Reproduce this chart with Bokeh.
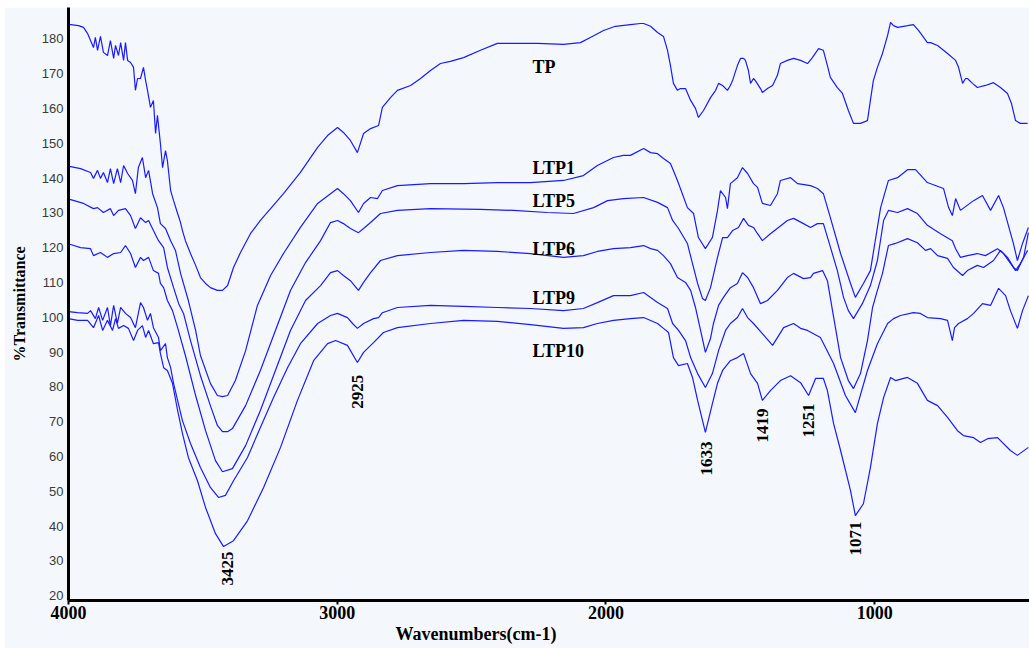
import math
from bokeh.plotting import figure
from bokeh.models import Range1d, FixedTicker, Title, Spacer
from bokeh.layouts import column, row
from bokeh.core.properties import value
from bokeh.embed import file_html
from bokeh.resources import INLINE

# ---- data: (wavenumber cm-1, %T) ----
tp = [(4000,184.1),(3992,184.1),(3963,183.8),(3944,183.3),(3929,181.5),(3918,179.5),(3907,177.5),(3900,180.4),(3892,176.7),(3881,180.7),(3870,176.1),(3855,175.2),(3844,179.5),(3832,174.4),(3825,178.1),(3814,175.2),(3806,178.9),(3795,173.8),(3788,178.9),(3780,173.8),(3769,173.2),(3758,171.8),(3751,165.2),(3743,168.6),(3732,168.6),(3721,171.8),(3713,168.0),(3706,165.2),(3695,160.3),(3684,162.3),(3676,152.8),(3669,158.0),(3658,149.9),(3650,143.0),(3639,147.9),(3632,145.0),(3620,136.4),(3609,133.5),(3594,129.8),(3583,127.2),(3576,124.9),(3565,122.0),(3546,118.3),(3527,114.9),(3509,111.4),(3490,109.7),(3472,108.5),(3446,107.7),(3427,107.7),(3408,109.1),(3386,114.3),(3360,118.6),(3323,124.0),(3286,127.8),(3248,131.2),(3200,135.5),(3137,141.6),(3073,148.8),(3036,152.2),(2999,154.5),(2977,153.1),(2951,150.8),(2925,147.3),(2902,152.8),(2876,154.2),(2846,155.1),(2832,160.3),(2802,163.1),(2776,165.2),(2727,166.6),(2690,168.6),(2653,170.9),(2616,172.9),(2579,173.5),(2530,174.6),(2467,176.7),(2404,178.7),(2255,178.7),(2158,178.4),(2095,178.9),(2058,180.4),(2009,182.4),(1965,183.6),(1909,184.1),(1872,184.4),(1860,184.4),(1834,183.6),(1808,181.8),(1786,180.7),(1771,176.7),(1760,172.3),(1749,167.2),(1734,165.2),(1723,165.7),(1704,165.7),(1685,162.3),(1667,160.0),(1656,157.4),(1637,159.4),(1611,163.1),(1592,165.2),(1581,167.2),(1566,166.6),(1548,165.2),(1537,166.6),(1529,168.0),(1511,172.3),(1499,174.4),(1488,174.4),(1481,173.8),(1470,170.9),(1462,167.2),(1451,168.6),(1444,168.0),(1425,165.7),(1418,164.6),(1399,165.7),(1380,166.6),(1362,169.5),(1351,172.9),(1325,173.8),(1302,174.4),(1276,173.8),(1250,172.9),(1232,174.6),(1209,177.2),(1191,176.7),(1176,172.3),(1165,168.9),(1139,166.0),(1120,164.3),(1098,159.4),(1079,155.7),(1053,155.7),(1027,156.5),(1016,162.3),(1005,168.0),(990,171.8),(971,175.8),(952,181.0),(941,184.7),(930,183.8),(915,183.3),(893,183.6),(878,183.8),(856,184.1),(837,182.4),(818,180.4),(804,178.9),(792,178.9),(766,178.1),(729,175.8),(699,173.8),(688,171.8),(673,167.2),(662,168.6),(655,168.6),(636,167.2),(618,166.0),(588,166.6),(558,167.4),(532,166.0),(506,164.3),(491,161.4),(476,156.5),(458,155.7),(431,155.7)]

ltp1 = [(4000,143.0),(3992,143.3),(3955,142.7),(3918,141.6),(3907,139.9),(3892,142.2),(3881,139.9),(3870,141.6),(3855,138.7),(3844,142.7),(3832,138.4),(3818,142.7),(3806,138.7),(3795,143.6),(3780,141.3),(3762,139.3),(3751,135.5),(3740,143.0),(3725,145.9),(3713,140.1),(3702,142.2),(3687,135.5),(3669,131.5),(3658,126.9),(3639,125.5),(3620,122.0),(3602,119.2),(3583,112.6),(3554,104.8),(3527,96.2),(3509,89.0),(3472,81.0),(3446,77.5),(3427,77.2),(3408,77.5),(3379,81.8),(3341,90.4),(3297,103.4),(3248,112.0),(3200,118.3),(3137,125.8),(3073,132.7),(2999,137.0),(2977,135.5),(2951,133.5),(2921,130.1),(2902,132.7),(2876,134.4),(2850,134.1),(2832,136.4),(2776,137.8),(2653,138.4),(2530,138.4),(2404,138.7),(2281,138.7),(2158,139.3),(2084,140.7),(2032,143.6),(1972,145.9),(1935,146.5),(1909,146.5),(1860,148.5),(1834,147.3),(1808,147.0),(1786,145.6),(1760,144.2),(1734,139.3),(1697,131.5),(1674,129.8),(1656,122.9),(1630,119.7),(1604,122.9),(1585,130.7),(1574,136.4),(1555,134.4),(1548,131.2),(1537,138.4),(1511,140.1),(1492,143.0),(1473,141.3),(1451,138.4),(1436,137.3),(1418,132.7),(1388,132.1),(1362,135.5),(1351,139.3),(1313,140.1),(1287,138.4),(1239,137.8),(1213,137.0),(1191,135.5),(1165,128.6),(1127,118.3),(1090,109.7),(1072,105.7),(1042,109.7),(1016,113.4),(978,131.5),(949,139.3),(915,140.1),(878,142.4),(848,142.4),(804,138.7),(744,137.0),(725,131.5),(711,129.2),(699,134.1),(681,130.7),(632,133.5),(599,135.0),(569,130.7),(539,135.0),(521,131.5),(484,121.2),(469,116.3),(450,121.2),(428,125.8)]

ltp5 = [(4000,133.8),(3992,133.8),(3944,132.7),(3907,131.2),(3892,131.5),(3870,130.1),(3844,131.2),(3832,129.2),(3814,130.7),(3788,131.2),(3769,129.2),(3751,125.5),(3732,128.6),(3713,127.2),(3702,127.8),(3684,124.9),(3665,122.0),(3646,120.0),(3632,114.3),(3609,108.5),(3590,103.9),(3572,101.1),(3546,93.3),(3509,83.2),(3472,74.6),(3446,68.9),(3427,67.1),(3408,67.1),(3390,68.0),(3341,74.6),(3286,84.7),(3230,96.2),(3174,107.7),(3118,115.7),(3062,122.0),(3025,127.2),(2999,127.8),(2977,126.9),(2951,125.5),(2921,124.3),(2902,125.5),(2876,127.2),(2839,129.8),(2776,130.7),(2653,131.2),(2467,131.0),(2344,130.7),(2218,130.1),(2121,129.8),(2046,131.5),(1994,133.5),(1935,134.1),(1860,134.4),(1808,133.0),(1771,131.5),(1752,127.8),(1730,125.5),(1697,121.2),(1678,115.4),(1659,109.7),(1641,105.4),(1630,104.8),(1611,108.5),(1585,117.2),(1566,122.9),(1548,122.9),(1529,124.9),(1507,125.8),(1488,128.4),(1470,126.4),(1451,125.8),(1436,124.0),(1418,122.0),(1388,124.0),(1358,125.8),(1325,127.8),(1302,128.4),(1265,126.9),(1239,125.8),(1213,126.9),(1191,126.9),(1172,122.0),(1139,113.4),(1116,105.7),(1098,101.9),(1079,99.6),(1046,103.9),(1016,109.1),(990,116.3),(967,127.8),(949,130.7),(915,130.1),(878,131.2),(841,129.8),(804,126.4),(755,124.0),(711,122.0),(699,119.7),(681,117.2),(655,117.7),(618,118.3),(588,117.7),(543,119.7),(521,118.3),(484,114.3),(469,113.4),(446,117.2),(428,124.3)]

ltp6 = [(4000,120.9),(3992,120.9),(3955,120.0),(3918,119.7),(3907,117.7),(3881,118.6),(3855,117.2),(3832,118.3),(3806,118.6),(3788,120.6),(3769,118.3),(3751,114.3),(3732,117.2),(3721,116.3),(3702,117.2),(3684,113.4),(3665,112.6),(3658,109.7),(3646,108.5),(3632,104.8),(3613,101.9),(3594,97.0),(3565,89.0),(3527,77.5),(3490,67.4),(3453,58.8),(3427,55.6),(3390,56.5),(3341,63.1),(3286,73.2),(3230,84.7),(3174,96.2),(3118,104.8),(3062,109.1),(3025,112.8),(2999,113.4),(2977,112.0),(2951,110.5),(2921,107.7),(2902,110.0),(2876,112.8),(2839,116.3),(2776,117.7),(2653,118.6),(2530,119.2),(2404,118.9),(2281,118.3),(2158,117.2),(2084,117.7),(2032,118.9),(1972,119.7),(1909,120.0),(1860,120.6),(1834,119.7),(1808,119.2),(1786,117.7),(1760,115.4),(1734,111.4),(1704,110.0),(1685,107.7),(1667,102.8),(1648,96.2),(1630,89.9),(1611,93.9),(1600,98.2),(1581,103.4),(1563,105.7),(1537,108.5),(1511,109.7),(1492,112.8),(1473,111.4),(1451,108.5),(1425,103.9),(1399,104.8),(1362,107.7),(1325,111.4),(1302,112.6),(1265,111.1),(1239,111.4),(1228,112.6),(1194,113.4),(1176,110.5),(1157,101.9),(1127,88.4),(1098,81.8),(1079,79.5),(1053,83.8),(1027,93.3),(1008,102.8),(990,107.7),(971,112.6),(949,120.6),(923,121.2),(878,122.6),(841,121.4),(811,119.2),(792,119.7),(766,117.7),(729,116.9),(707,114.3),(673,112.0),(655,113.4),(618,114.9),(595,114.3),(558,116.3),(532,119.2),(506,117.2),(476,113.4),(458,115.4),(431,119.2)]

ltp9 = [(4000,101.6),(3966,101.3),(3929,101.1),(3918,101.9),(3900,99.6),(3888,102.8),(3873,99.1),(3855,102.8),(3844,97.6),(3832,103.4),(3818,98.2),(3806,102.8),(3788,101.1),(3769,99.9),(3751,97.0),(3732,104.2),(3721,102.8),(3706,99.1),(3695,101.1),(3684,97.0),(3665,94.2),(3658,90.4),(3639,92.4),(3632,88.4),(3620,85.5),(3609,81.0),(3594,76.1),(3576,70.3),(3546,63.7),(3509,56.8),(3472,51.1),(3442,48.2),(3416,48.8),(3386,53.0),(3334,59.7),(3286,68.3),(3237,76.9),(3185,85.5),(3137,92.4),(3073,98.2),(3025,100.5),(2999,101.1),(2962,99.9),(2943,98.2),(2925,96.8),(2902,98.2),(2865,99.6),(2846,99.9),(2832,101.3),(2776,102.8),(2653,103.4),(2530,103.1),(2404,102.8),(2281,102.5),(2158,101.9),(2084,102.5),(2032,104.2),(1972,106.2),(1909,106.2),(1860,107.1),(1808,104.2),(1771,102.5),(1752,98.2),(1730,96.2),(1704,93.3),(1685,88.4),(1659,83.8),(1630,79.8),(1604,83.8),(1581,90.4),(1555,96.2),(1537,98.2),(1511,99.9),(1492,102.5),(1473,99.9),(1451,98.2),(1418,95.3),(1380,91.9),(1339,97.0),(1302,98.2),(1276,96.8),(1250,96.2),(1202,94.2),(1153,86.7),(1109,77.5),(1072,72.6),(1027,84.7),(990,92.4),(952,98.2),(930,99.6),(904,100.5),(856,101.3),(830,101.1),(804,99.9),(755,99.6),(729,99.1),(711,93.3),(703,97.0),(688,98.2),(655,99.6),(632,101.1),(599,103.9),(569,103.4),(539,108.3),(513,106.2),(495,101.9),(469,96.8),(450,101.9),(428,106.2)]

ltp10 = [(4000,99.6),(3966,99.1),(3929,99.1),(3907,97.0),(3888,100.5),(3873,96.2),(3855,99.1),(3836,96.2),(3825,99.6),(3814,96.8),(3795,97.6),(3777,96.8),(3758,93.3),(3743,96.2),(3725,97.6),(3713,94.2),(3702,96.2),(3684,92.4),(3665,92.7),(3658,89.6),(3646,85.5),(3632,84.7),(3613,81.0),(3594,73.2),(3576,66.6),(3554,59.7),(3520,53.0),(3490,45.3),(3453,37.8),(3423,34.1),(3386,35.8),(3334,41.5),(3274,51.1),(3211,62.6),(3148,76.1),(3088,87.5),(3036,92.4),(3006,93.3),(2962,91.9),(2925,87.0),(2902,89.9),(2865,92.7),(2828,95.6),(2776,97.0),(2653,98.2),(2530,99.1),(2404,98.8),(2281,97.9),(2158,96.8),(2084,97.0),(2032,98.2),(1972,99.1),(1909,99.6),(1860,99.9),(1808,98.2),(1786,96.8),(1767,95.6),(1749,88.4),(1730,86.1),(1697,86.7),(1678,82.7),(1659,76.1),(1630,66.9),(1604,75.2),(1585,81.0),(1566,84.7),(1537,87.5),(1511,88.4),(1488,89.6),(1462,83.8),(1436,81.0),(1418,76.1),(1388,78.9),(1351,81.8),(1313,83.2),(1276,81.2),(1246,77.5),(1220,82.4),(1191,82.4),(1176,78.9),(1153,69.4),(1127,61.7),(1090,50.2),(1072,43.0),(1042,46.4),(1016,56.8),(990,69.4),(967,76.9),(941,82.7),(923,81.8),(878,82.7),(841,81.0),(804,76.1),(766,74.6),(729,71.2),(692,67.4),(670,66.0),(632,65.4),(606,64.0),(580,65.1),(543,65.4),(495,61.7),(469,60.3),(428,62.6)]

series_names = ["TP", "LTP1", "LTP5", "LTP6", "LTP9", "LTP10"]
series_data = [tp, ltp1, ltp5, ltp6, ltp9, ltp10]

peak_labels = ["3425", "2925", "1633", "1419", "1251", "1071"]

x_ticks = [4000, 3000, 2000, 1000]
y_ticks = [20, 30, 40, 50, 60, 70, 80, 90, 100, 110, 120, 130, 140, 150, 160, 170, 180]

# ---- layout / style (not data) ----
name_pos_x = [2273, 2273, 2273, 2273, 2273, 2273]
name_pos_y = [171.8, 143.0, 133.5, 119.7, 105.4, 90.4]
peak_pos_x = [3408, 2925, 1626, 1418, 1246, 1072]
peak_pos_y = [27.8, 78.6, 59.4, 68.9, 70.3, 36.4]

BG = "#f4f8fc"
BLUE = "#1a1aff"
SERIF = "Liberation Serif"

p = figure(width=1025, height=641,
           x_range=Range1d(4000, 424), y_range=Range1d(18.6, 189.0),
           output_backend="svg", toolbar_location=None,
           min_border_left=64, min_border_right=0, min_border_top=0, min_border_bottom=48,
           background_fill_color=BG, border_fill_color=BG, outline_line_color=None)
p.grid.visible = False

for data in series_data:
    p.line([d[0] for d in data], [d[1] for d in data], line_color=BLUE, line_width=1.2)

xa = p.xaxis[0]
xa.ticker = FixedTicker(ticks=x_ticks)
xa.major_label_text_font = SERIF
xa.major_label_text_font_style = "bold"
xa.major_label_text_font_size = "18px"
xa.major_label_text_color = "black"
xa.axis_line_width = 3
xa.axis_line_color = "black"
xa.major_tick_out = 4
xa.major_tick_in = 0
xa.major_tick_line_width = 2
xa.minor_tick_out = 0
xa.minor_tick_in = 0
xa.major_label_standoff = 1

ya = p.yaxis[0]
ya.ticker = FixedTicker(ticks=y_ticks)
ya.major_label_text_font = "Liberation Sans"
ya.major_label_text_font_size = "13px"
ya.major_label_text_color = "#3a3a3a"
ya.axis_line_width = 3
ya.axis_line_color = "black"
ya.major_tick_out = 0
ya.major_tick_in = 0
ya.minor_tick_out = 0
ya.minor_tick_in = 0
ya.major_label_standoff = 5
ya.axis_label = "%Transmittance"
ya.axis_label_text_font = SERIF
ya.axis_label_text_font_style = "bold"
ya.axis_label_text_font_size = "16px"
ya.axis_label_text_color = "black"
ya.axis_label_standoff = 11

p.add_layout(Title(text="Wavenumbers(cm-1)", align="left", offset=327, standoff=0,
                   text_font=SERIF, text_font_style="bold", text_font_size="18px",
                   text_color="black"), "below")

p.text(x=name_pos_x, y=name_pos_y, text=series_names,
       text_font=value(SERIF), text_font_style="bold", text_font_size="18px",
       text_align="left", text_baseline="alphabetic", text_color="black")

p.text(x=peak_pos_x, y=peak_pos_y, text=peak_labels, angle=math.pi / 2,
       text_font=value(SERIF), text_font_style="bold", text_font_size="17px",
       text_align="center", text_baseline="middle", text_color="black")

page = column(Spacer(width=1029, height=7), row(Spacer(width=4, height=641), p))

open("out.html", "w").write(file_html(page, INLINE))
